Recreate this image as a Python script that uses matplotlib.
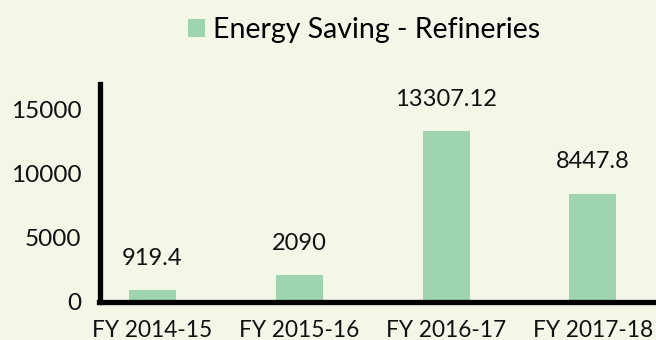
import matplotlib
matplotlib.use("Agg")
import matplotlib.pyplot as plt
from matplotlib.patches import Patch

categories = ["FY 2014-15", "FY 2015-16", "FY 2016-17", "FY 2017-18"]
savings = [919.4, 2090, 13307.12, 8447.8]
value_labels = ["919.4", "2090", "13307.12", "8447.8"]
y_ticks = [0, 5000, 10000, 15000]
series_name = "Energy Saving - Refineries"

bg = "#F3F7E7"
bar_color = "#9ED5B0"

plt.rcParams["font.family"] = ["Lato", "DejaVu Sans"]

fig = plt.figure(figsize=(6.56, 3.40), dpi=100, facecolor=bg)
ax = fig.add_axes([99.5 / 656, 38 / 340, 1 - 99.5 / 656, 218 / 340])
ax.set_facecolor(bg)

x = list(range(len(categories)))
bars = ax.bar(x, savings, width=0.32, color=bar_color, zorder=2)

for rect, lbl in zip(bars, value_labels):
    ax.annotate(lbl, (rect.get_x() + rect.get_width() / 2, rect.get_height()),
                xytext=(0, 15.5), textcoords="offset points",
                ha="center", va="bottom", fontsize=17, color="#111111")

ax.set_xlim(-0.36, 3.43)
ax.set_ylim(0, 17000)
ax.set_xticks(x)
ax.set_xticklabels(categories, fontsize=16.3, color="#111111")
ax.set_yticks(y_ticks)
ax.set_yticklabels([str(v) for v in y_ticks], fontsize=17.5, color="#111111")
ax.tick_params(axis="both", length=0)
ax.tick_params(axis="y", pad=13)
ax.tick_params(axis="x", pad=13)

for side in ("top", "right"):
    ax.spines[side].set_visible(False)
for side in ("left", "bottom"):
    ax.spines[side].set_linewidth(3.8)
    ax.spines[side].set_color("black")
    ax.spines[side].set_capstyle("projecting")

handle = Patch(facecolor=bar_color, edgecolor="none")
fig.legend([handle], [series_name], loc="center", bbox_to_anchor=(364 / 656, 1 - 30 / 340),
           frameon=False, fontsize=20.5, handlelength=0.6, handleheight=0.6,
           handletextpad=0.25)

fig.savefig("out.png", dpi=100, facecolor=bg)
